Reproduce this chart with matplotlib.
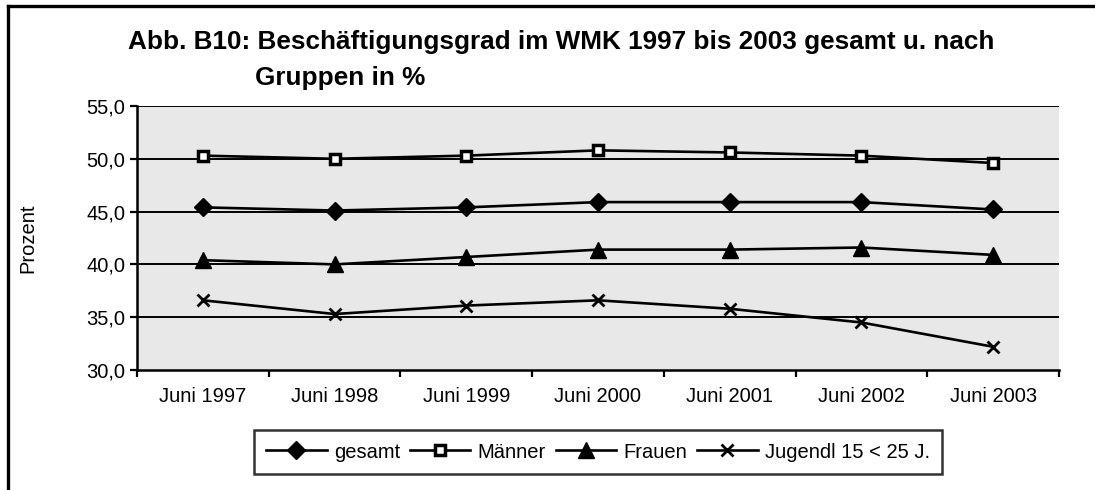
import matplotlib
matplotlib.use("Agg")
import matplotlib.pyplot as plt
from matplotlib.lines import Line2D

plt.rcParams['font.family'] = ['Liberation Sans', 'DejaVu Sans']

jahre = ["Juni 1997", "Juni 1998", "Juni 1999", "Juni 2000", "Juni 2001", "Juni 2002", "Juni 2003"]
gesamt = [45.4, 45.1, 45.4, 45.9, 45.9, 45.9, 45.2]
maenner = [50.3, 50.0, 50.3, 50.8, 50.6, 50.3, 49.6]
frauen = [40.4, 40.0, 40.7, 41.4, 41.4, 41.6, 40.9]
jugendl = [36.6, 35.3, 36.1, 36.6, 35.8, 34.5, 32.2]
namen = ["gesamt", "Männer", "Frauen", "Jugendl 15 < 25 J."]
yticks = [30, 35, 40, 45, 50, 55]

W, H = 1095, 490
fig = plt.figure(figsize=(W / 100, H / 100), dpi=100)
ax = fig.add_axes([137 / W, (H - 370) / H, 922 / W, 264 / H])
ax.set_facecolor('#e8e8e8')

x = list(range(len(jahre)))
lw = 1.9
ax.plot(x, gesamt, color='black', lw=lw, marker='D', ms=9, mfc='black', mec='black', label=namen[0], zorder=3)
ax.plot(x, maenner, color='black', lw=lw, marker='s', ms=7, mfc='white', mec='black', mew=2.5, label=namen[1], zorder=3)
ax.plot(x, frauen, color='black', lw=lw, marker='^', ms=11, mfc='black', mec='black', label=namen[2], zorder=3)
ax.plot(x, jugendl, color='black', lw=lw, marker='x', ms=9, mew=2, label=namen[3], zorder=3)

ax.set_xlim(-0.5, len(jahre) - 0.5)
ax.set_ylim(30, 55)
ax.set_yticks(yticks)
ax.set_yticklabels([f"{v:.1f}".replace('.', ',') for v in yticks], fontsize=14.5)
for v in yticks[1:]:
    ax.axhline(v, color='black', lw=1.4, zorder=1)

# Kategorien zwischen den Teilstrichen
ax.set_xticks([i - 0.5 for i in range(len(jahre) + 1)])
ax.set_xticklabels([])
ax.set_xticks(x, minor=True)
ax.set_xticklabels(jahre, minor=True, fontsize=14.5)
ax.tick_params(axis='x', which='minor', length=0, pad=12)
ax.tick_params(axis='both', which='major', direction='out', length=5, width=1.6)

for s in ['top', 'right']:
    ax.spines[s].set_visible(False)
for s in ['left', 'bottom']:
    ax.spines[s].set_linewidth(1.8)

ax.set_ylabel("Prozent", fontsize=14.5)
ax.yaxis.set_label_coords(-100 / 922, 0.5)

fig.text(128 / W, 1 - 42 / H, "Abb. B10: Beschäftigungsgrad im WMK 1997 bis 2003 gesamt u. nach",
         fontsize=18.8, fontweight='bold', ha='left', va='center')
fig.text(255 / W, 1 - 78 / H, "Gruppen in %", fontsize=18.8, fontweight='bold', ha='left', va='center')

leg = fig.legend(loc='center', bbox_to_anchor=(598 / W, 1 - 452 / H), ncol=4, fontsize=14.5,
                 frameon=True, fancybox=False, edgecolor='black', handlelength=3.0,
                 handletextpad=0.35, columnspacing=0.5, borderpad=0.6, borderaxespad=0)
leg.get_frame().set_linewidth(1.8)

fig.add_artist(Line2D([8 / W, 8 / W], [0, 1 - 6.5 / H], color='black', lw=2.4))
fig.add_artist(Line2D([8 / W, 1], [1 - 6.5 / H, 1 - 6.5 / H], color='black', lw=2.4))

fig.savefig("out.png", dpi=100)
